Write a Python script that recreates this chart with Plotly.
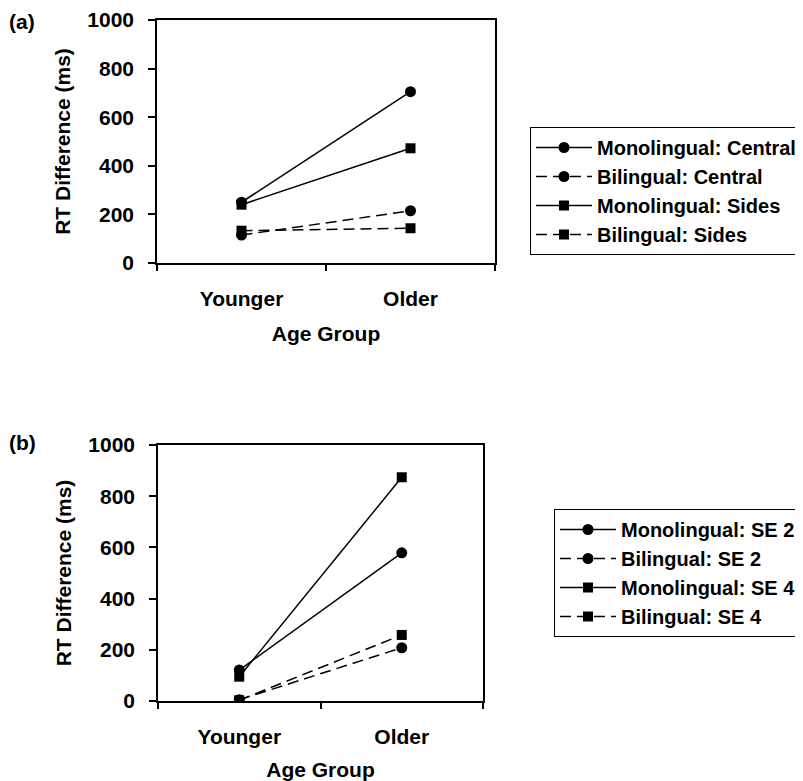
import plotly.graph_objects as go

# ---- data ----
age_groups = ["Younger", "Older"]

# Panel (a)
mono_central = [250, 705]
bil_central = [115, 215]
mono_sides = [240, 472]
bil_sides = [133, 143]

# Panel (b)
mono_se2 = [121, 579]
bil_se2 = [5, 208]
mono_se4 = [95, 874]
bil_se4 = [3, 258]

y_ticks = [0, 200, 400, 600, 800, 1000]

FONT = "Liberation Sans"
FS = 21
LFS = 20

# page body has an 8px default margin; figure is sized to fit the window
OFF = 8
W, H = 803 - OFF, 781 - OFF


def px(xp):
    return (xp - OFF) / W


def py(yp):
    return 1 - (yp - OFF) / H


fig = go.Figure()


def add(name, y, symbol, dashed, xa, ya, legend):
    fig.add_trace(go.Scatter(
        x=age_groups, y=y, name=name, mode="lines+markers",
        xaxis=xa, yaxis=ya, legend=legend,
        line=dict(color="black", width=1.5, dash="11px,6px" if dashed else "solid"),
        marker=dict(symbol=symbol, size=11 if symbol == "circle" else 10, color="black"),
    ))


add("Monolingual: Central", mono_central, "circle", False, "x", "y", "legend")
add("Bilingual: Central", bil_central, "circle", True, "x", "y", "legend")
add("Monolingual: Sides", mono_sides, "square", False, "x", "y", "legend")
add("Bilingual: Sides", bil_sides, "square", True, "x", "y", "legend")

add("Monolingual: SE 2", mono_se2, "circle", False, "x2", "y2", "legend2")
add("Bilingual: SE 2", bil_se2, "circle", True, "x2", "y2", "legend2")
add("Monolingual: SE 4", mono_se4, "square", False, "x2", "y2", "legend2")
add("Bilingual: SE 4", bil_se4, "square", True, "x2", "y2", "legend2")


def xax(domain, anchor):
    return dict(
        domain=domain, anchor=anchor, type="category",
        categoryorder="array", categoryarray=age_groups,
        range=[-0.5, 1.5], tickson="boundaries",
        showline=True, linecolor="black", linewidth=1.5, mirror=True,
        ticks="outside", ticklen=6, tickcolor="black", tickwidth=1.5,
        showgrid=False, zeroline=False, ticklabelstandoff=16,
        tickfont=dict(family=FONT, size=FS, color="black", weight="bold"),
        title=dict(text="Age Group", standoff=17,
                   font=dict(family=FONT, size=FS, color="black", weight="bold")),
        fixedrange=True, automargin=False,
    )


def yax(domain, anchor):
    return dict(
        domain=domain, anchor=anchor, range=[0, 1000],
        tickvals=y_ticks, ticktext=[str(v) for v in y_ticks],
        showline=True, linecolor="black", linewidth=1.5, mirror=True,
        ticks="outside", ticklen=7, tickcolor="black", tickwidth=1.5,
        showgrid=False, zeroline=False, ticklabelstandoff=10,
        tickfont=dict(family=FONT, size=FS, color="black", weight="bold"),
        title=dict(text="RT Difference (ms)", standoff=11,
                   font=dict(family=FONT, size=FS, color="black", weight="bold")),
        fixedrange=True, automargin=False,
    )


legend_common = dict(
    xanchor="left", yanchor="top", bgcolor="white",
    bordercolor="black", borderwidth=1, itemwidth=56,
    font=dict(family=FONT, size=LFS, color="black", weight="bold"),
    tracegroupgap=0, itemclick=False, itemdoubleclick=False,
)

fig.update_layout(
    width=W, height=H,
    margin=dict(l=0, r=0, t=0, b=0, autoexpand=False),
    paper_bgcolor="white", plot_bgcolor="white",
    xaxis=xax([px(157), px(495)], "y"),
    yaxis=yax([py(263), py(20)], "x"),
    xaxis2=xax([px(158), px(483)], "y2"),
    yaxis2=yax([py(701), py(445)], "x2"),
    legend=dict(x=px(530), y=py(127), **legend_common),
    legend2=dict(x=px(554), y=py(509), **legend_common),
    annotations=[
        dict(text="(a)", x=px(7), y=py(8), xref="paper", yref="paper",
             xanchor="left", yanchor="top", showarrow=False,
             font=dict(family=FONT, size=FS, color="black", weight="bold")),
        dict(text="(b)", x=px(7), y=py(443), xref="paper", yref="paper",
             xanchor="left", yanchor="middle", showarrow=False,
             font=dict(family=FONT, size=FS, color="black", weight="bold")),
    ],
    showlegend=True,
)

fig.write_html("out.html", config={"displayModeBar": False})
